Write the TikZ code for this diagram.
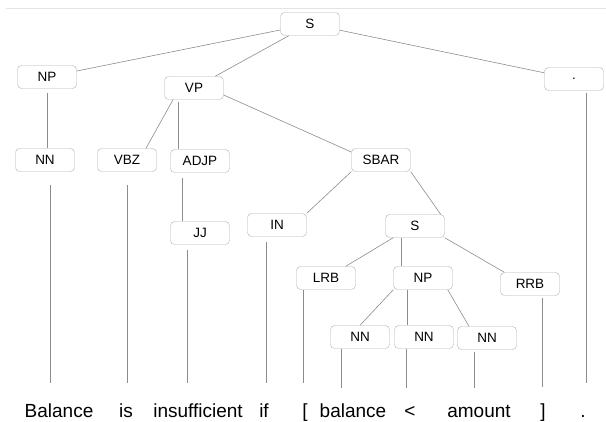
\documentclass[tikz,border=0pt]{standalone}
\usepackage{fontspec}
\setmainfont{Liberation Sans}
\usepackage{tikz}
\definecolor{treegray}{RGB}{140,140,140}
\definecolor{boxgray}{RGB}{175,175,175}
\definecolor{rulegray}{RGB}{228,228,228}

\begin{document}
\begin{tikzpicture}[x=1pt, y=-1pt,
    tag/.style={draw=boxgray, rounded corners=4pt, minimum width=59pt, minimum height=23pt, inner sep=0pt, font=\fontsize{13.5}{15}\selectfont},
    word/.style={anchor=base, inner sep=0pt, text height=14pt, text depth=4pt, font=\fontsize{19}{22}\selectfont},
    edge/.style={draw=treegray, line width=0.6pt}]
    \useasboundingbox (0,0) rectangle (606,421);
    \draw[rulegray, line width=1.5pt] (6,8.5) -- (606,8.5);

    % phrase tags
    \node[tag] (S0) at (310,24) {S};
    \node[tag] (NP0) at (47,77) {NP};
    \node[tag] (VP) at (194,88) {VP};
    \node[tag] (dot) at (574,79) {.};
    \node[tag] (NN1) at (45,160) {NN};
    \node[tag] (VBZ) at (127,160) {VBZ};
    \node[tag] (ADJP) at (200,161) {ADJP};
    \node[tag] (SBAR) at (381,160) {SBAR};
    \node[tag] (JJ) at (200,233) {JJ};
    \node[tag] (IN) at (277,225) {IN};
    \node[tag] (S1) at (415,226) {S};
    \node[tag] (LRB) at (326,278) {LRB};
    \node[tag] (NP1) at (423,278) {NP};
    \node[tag] (RRB) at (530,284) {RRB};
    \node[tag] (NNa) at (360,337) {NN};
    \node[tag] (NNb) at (424,337) {NN};
    \node[tag] (NNc) at (487,338) {NN};

    % sentence
    \foreach \i/\x/\w in {1/59/Balance, 2/126/is, 3/198/insufficient, 4/264/if, 5/305/{[}, 6/353/balance, 7/410/{<}, 8/479/amount, 9/543/{]}, 10/583/.} {
        \node[word] (w\i) at (\x,417) {\w};
    }

    % tree edges
    \draw[edge] (S0) -- (NP0);
    \draw[edge] (S0) -- (VP);
    \draw[edge] (S0) -- (dot);
    \draw[edge, shorten <=4pt] (NP0.south) -- (NP0.south |- NN1.north);
    \draw[edge] ([xshift=-21pt]VP.south) -- ([xshift=19pt]VBZ.north);
    \draw[edge, shorten <=2pt] ([xshift=-16pt]VP.south) -- ([xshift=-16pt]VP.south |- ADJP.north);
    \draw[edge] ([yshift=-7pt]VP.east) -- ([yshift=8pt]SBAR.west);
    \draw[edge, shorten <=5pt] ([xshift=-18pt]ADJP.south) -- ([xshift=-18pt]ADJP.south |- JJ.north);
    \draw[edge] (SBAR.south west) -- (IN.north east);
    \draw[edge] (SBAR.south east) -- ([xshift=-4pt]S1.north east);
    \draw[edge] ([xshift=8pt]S1.south west) -- ([xshift=-10pt]LRB.north east);
    \draw[edge] ([xshift=-14pt]S1.south) -- ([xshift=-14pt]S1.south |- NP1.north);
    \draw[edge] (S1.south east) -- ([xshift=4pt]RRB.north west);
    \draw[edge] (NP1.south west) -- (NNa.north);
    \draw[edge] ([xshift=-16pt]NP1.south) -- ([xshift=-16pt]NP1.south |- NNb.north);
    \draw[edge] ([xshift=-5pt]NP1.south east) -- ([xshift=-18pt]NNc.north);

    % leaves down to the words
    \foreach \n/\dx/\a/\b/\w in {NN1/5/13/20/w1, VBZ/0/13/20/w2, JJ/-13/5/20/w3, IN/-11/5/20/w4, LRB/-23/0/20/w5, NNa/-19/0/15/w6, NNb/-18/0/15/w7, NNc/-13/2/15/w8, RRB/12/2/16/w9, dot/12/2/20/w10} {
        \draw[edge, shorten <=\a pt, shorten >=\b pt] ([xshift=\dx pt]\n.south) -- ([xshift=\dx pt]\n.south |- \w.north);
    }
\end{tikzpicture}
\end{document}
